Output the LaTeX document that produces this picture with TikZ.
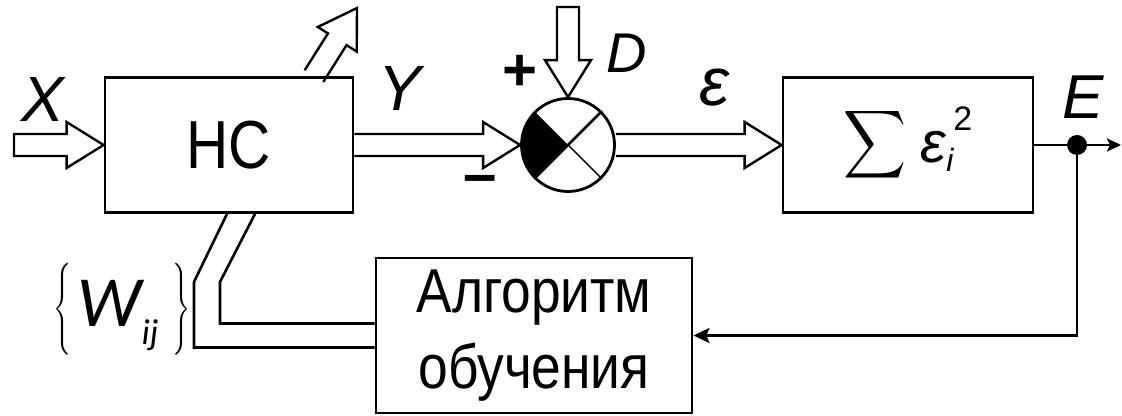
\documentclass[tikz,border=0pt]{standalone}
\usepackage{fontspec}
\usepackage{graphicx}
\setmainfont{Liberation Sans}
\newfontfamily\blockfont{Liberation Sans}[FakeStretch=0.86]
\newfontfamily\wfont{Carlito}
\usetikzlibrary{positioning,arrows.meta,calc}

\tikzset{
  block/.style={draw, line width=1.4pt, rectangle, inner sep=0pt},
  fat/.style={line width=1.2pt, line join=miter},
  wire/.style={line width=1.3pt},
  sig/.style={inner sep=0pt, font=\fontsize{32}{36}\selectfont\itshape},
  sgn/.style={inner sep=0pt, font=\fontsize{30}{32}\selectfont\bfseries},
  dot/.style={circle, fill, inner sep=0pt, minimum size=10pt},
}

% hollow arrow: [closing piece]{start}{tip}
\newcommand{\fatarrow}[3][]{%
  \coordinate (fa-h) at ($(#3)!18.5pt!(#2)$);
  \draw[fat] ($(#2)!5.5pt!90:(#3)$) -- ($(fa-h)!5.5pt!90:(#3)$)
    -- ($(fa-h)!11.5pt!90:(#3)$) -- (#3) -- ($(fa-h)!11.5pt!-90:(#3)$)
    -- ($(fa-h)!5.5pt!-90:(#3)$) -- ($(#2)!5.5pt!-90:(#3)$) #1;}

\begin{document}
\begin{tikzpicture}[x=0.5pt, y=-0.5pt]
\useasboundingbox (0,0) rectangle (1122,416);

\node[block, minimum width=124pt, minimum height=67.5pt,
  font=\fontsize{34}{40}\blockfont] (hc) at (229,145) {НС};
\node[block, circle, minimum size=46.5pt] (sum) at (568,145) {};
\node[block, minimum width=125pt, minimum height=67.5pt] (sq) at (908,145)
  {\raisebox{3pt}{\resizebox*{31.5pt}{38pt}{$\displaystyle\sum$}}\hspace{7pt}%
   \fontsize{29}{30}\selectfont\itshape ε\rlap{\raisebox{-4.5pt}{\fontsize{16}{16}\selectfont i}}%
   \hspace{3.5pt}\raisebox{16pt}{\fontsize{17}{17}\selectfont\upshape 2}};
\node[block, minimum width=158pt, minimum height=77.5pt, align=center,
  font=\fontsize{31}{38}\blockfont] (alg) at (534,335.5) {Алгоритм\\обучения};

\node[dot] (edot) at (1077,145) {};
\coordinate (eout) at (1121,145);
\coordinate (xsrc) at (14,145);
\coordinate (dsrc) at (568,7);
\coordinate (wsrc) at ($(hc.north)+(85,0)$);
\coordinate (wtip) at (357,8);

\node[sig] (xl) at (43,99) {X};
\node[sig] (yl) at (400,88) {Y};
\node[sig, font=\fontsize{28}{32}\selectfont\itshape] (dl) at (627,53) {D};
\node[sig, font=\fontsize{34}{36}\selectfont\itshape] (el) at (714,88) {ε};
\node[sig, font=\fontsize{31}{36}\selectfont\itshape] (bigel) at (1083,97) {E};
\node[sgn] (plus) at (520,73) {+};
\node[sgn] (minus) at (480,185) {–};
\node[inner sep=0pt] (wl) at (122,309)
  {\raisebox{5pt}{\resizebox*{9pt}{46pt}{$\Bigg\{$}}\hspace{3pt}%
   {\fontsize{36}{40}\wfont\itshape W}\raisebox{-9pt}{\fontsize{18}{20}\wfont\itshape ij}%
   \hspace{7pt}\raisebox{5pt}{\resizebox*{9pt}{46pt}{$\Bigg\}$}}};

\begin{scope}
\clip (sum.center) circle[radius=23pt];
\fill (sum.center) -- ($(sum.center)+(135:40pt)$) -- ($(sum.center)+(225:40pt)$) -- cycle;
\end{scope}
\draw[line width=1.4pt] (sum.45) -- (sum.225);
\draw[line width=0.7pt] (sum.center) -- (sum.-45);

\fatarrow[-- cycle]{xsrc}{hc.west}
\fatarrow{hc.east}{sum.west}
\fatarrow[-- cycle]{dsrc}{sum.north}
\fatarrow{sum.east}{sq.west}
\fatarrow{wsrc}{wtip}

\draw[wire] (sq.east) -- (edot);
\draw[wire, -{Stealth[length=7pt, width=6.5pt, inset=1.5pt]}] (edot) -- (eout);
\draw[wire, -{Stealth[length=8pt, width=7.5pt, inset=1.5pt]}] (edot) |- (alg.east);
\draw[wire] ($(hc.south)+(-2,0)$) -- ++(-33,68) |- ($(alg.west)+(0,12)$);
\draw[wire] ($(hc.south)+(26,0)$) -- ++(-35,68) |- ($(alg.west)+(0,-12)$);
\end{tikzpicture}
\end{document}
